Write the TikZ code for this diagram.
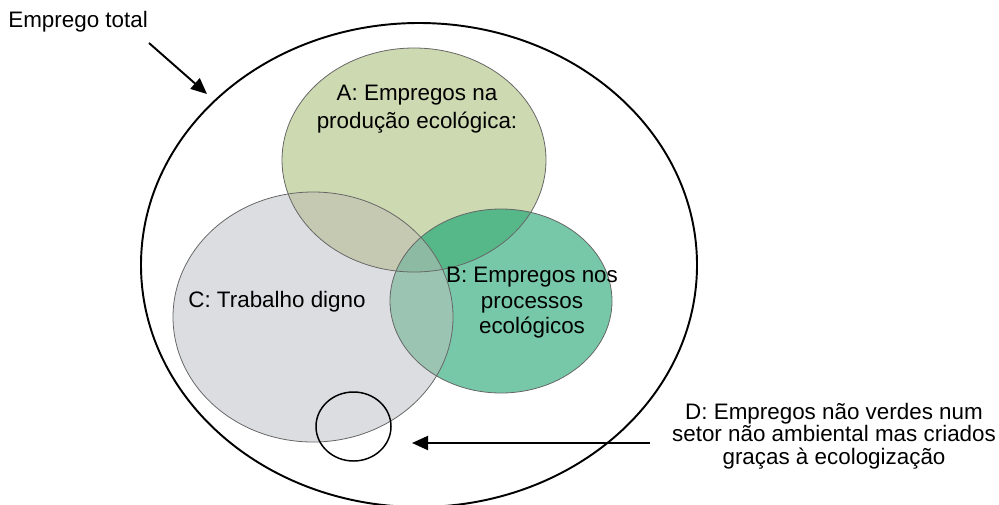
\documentclass[tikz,border=0pt]{standalone}
\usepackage{fontspec}
\setmainfont{Liberation Sans}
\usetikzlibrary{arrows.meta}

\definecolor{colA}{RGB}{205,217,177}
\definecolor{colB}{RGB}{118,200,168}
\definecolor{colC}{RGB}{220,221,224}
\definecolor{colAB}{RGB}{86,184,136}
\definecolor{colAC}{RGB}{197,201,178}
\definecolor{colBC}{RGB}{156,196,178}
\definecolor{colABC}{RGB}{140,186,162}

\newcommand{\ellA}{(414,160) ellipse [x radius=132, y radius=112]}
\newcommand{\ellB}{(501,301) ellipse [x radius=111, y radius=92]}
\newcommand{\ellC}{(313,317) ellipse [x radius=140, y radius=125]}

\tikzset{
  setline/.style={draw=black!60, line width=0.45pt},
  label/.style={align=center, inner sep=0pt},
  pointer/.style={line width=1.1pt, -{Triangle[length=0.32cm, width=0.28cm]}}
}

\begin{document}
\begin{tikzpicture}[x=0.02cm, y=-0.02cm, font=\fontsize{12.75}{15.3}\selectfont]
\useasboundingbox (0,0) rectangle (999,504);

% the three sets
\fill[colA] \ellA;
\fill[colC] \ellC;
\fill[colB] \ellB;
\begin{scope}
  \clip \ellA;
  \fill[colAC] \ellC;
  \fill[colAB] \ellB;
\end{scope}
\begin{scope}
  \clip \ellB;
  \fill[colBC] \ellC;
\end{scope}
\begin{scope}
  \clip \ellA;
  \clip \ellB;
  \fill[colABC] \ellC;
\end{scope}
\draw[setline] \ellA;
\draw[setline] \ellC;
\draw[setline] \ellB;

% total employment and D
\draw[line width=1.1pt] (419,265) ellipse [x radius=278, y radius=242];
\draw[line width=0.85pt] (353.5,426.5) ellipse [x radius=37.5, y radius=34.5];

% labels
\node[label, anchor=west] (total) at (8,22) {Emprego total};
\node[label, font=\fontsize{12.75}{15.9}\selectfont] (setA) at (417,109)
  {A: Empregos na\\produção ecológica:};
\node[label] (setC) at (277,302) {C: Trabalho digno};
\node[label, font=\fontsize{12.75}{14.5}\selectfont] (setB) at (532,303)
  {B: Empregos nos\\processos\\ecológicos};
\node[label, font=\fontsize{12.75}{12.8}\selectfont] (setD) at (834,436)
  {D: Empregos não verdes num\\setor não ambiental mas criados\\graças à ecologização};

% arrows
\coordinate (totalfrom) at (149,43);
\coordinate (totalto) at (207,94);
\coordinate (dfrom) at (650,443);
\coordinate (dto) at (412,443);
\draw[pointer] (totalfrom) -- (totalto);
\draw[pointer] (dfrom) -- (dto);
\end{tikzpicture}
\end{document}
